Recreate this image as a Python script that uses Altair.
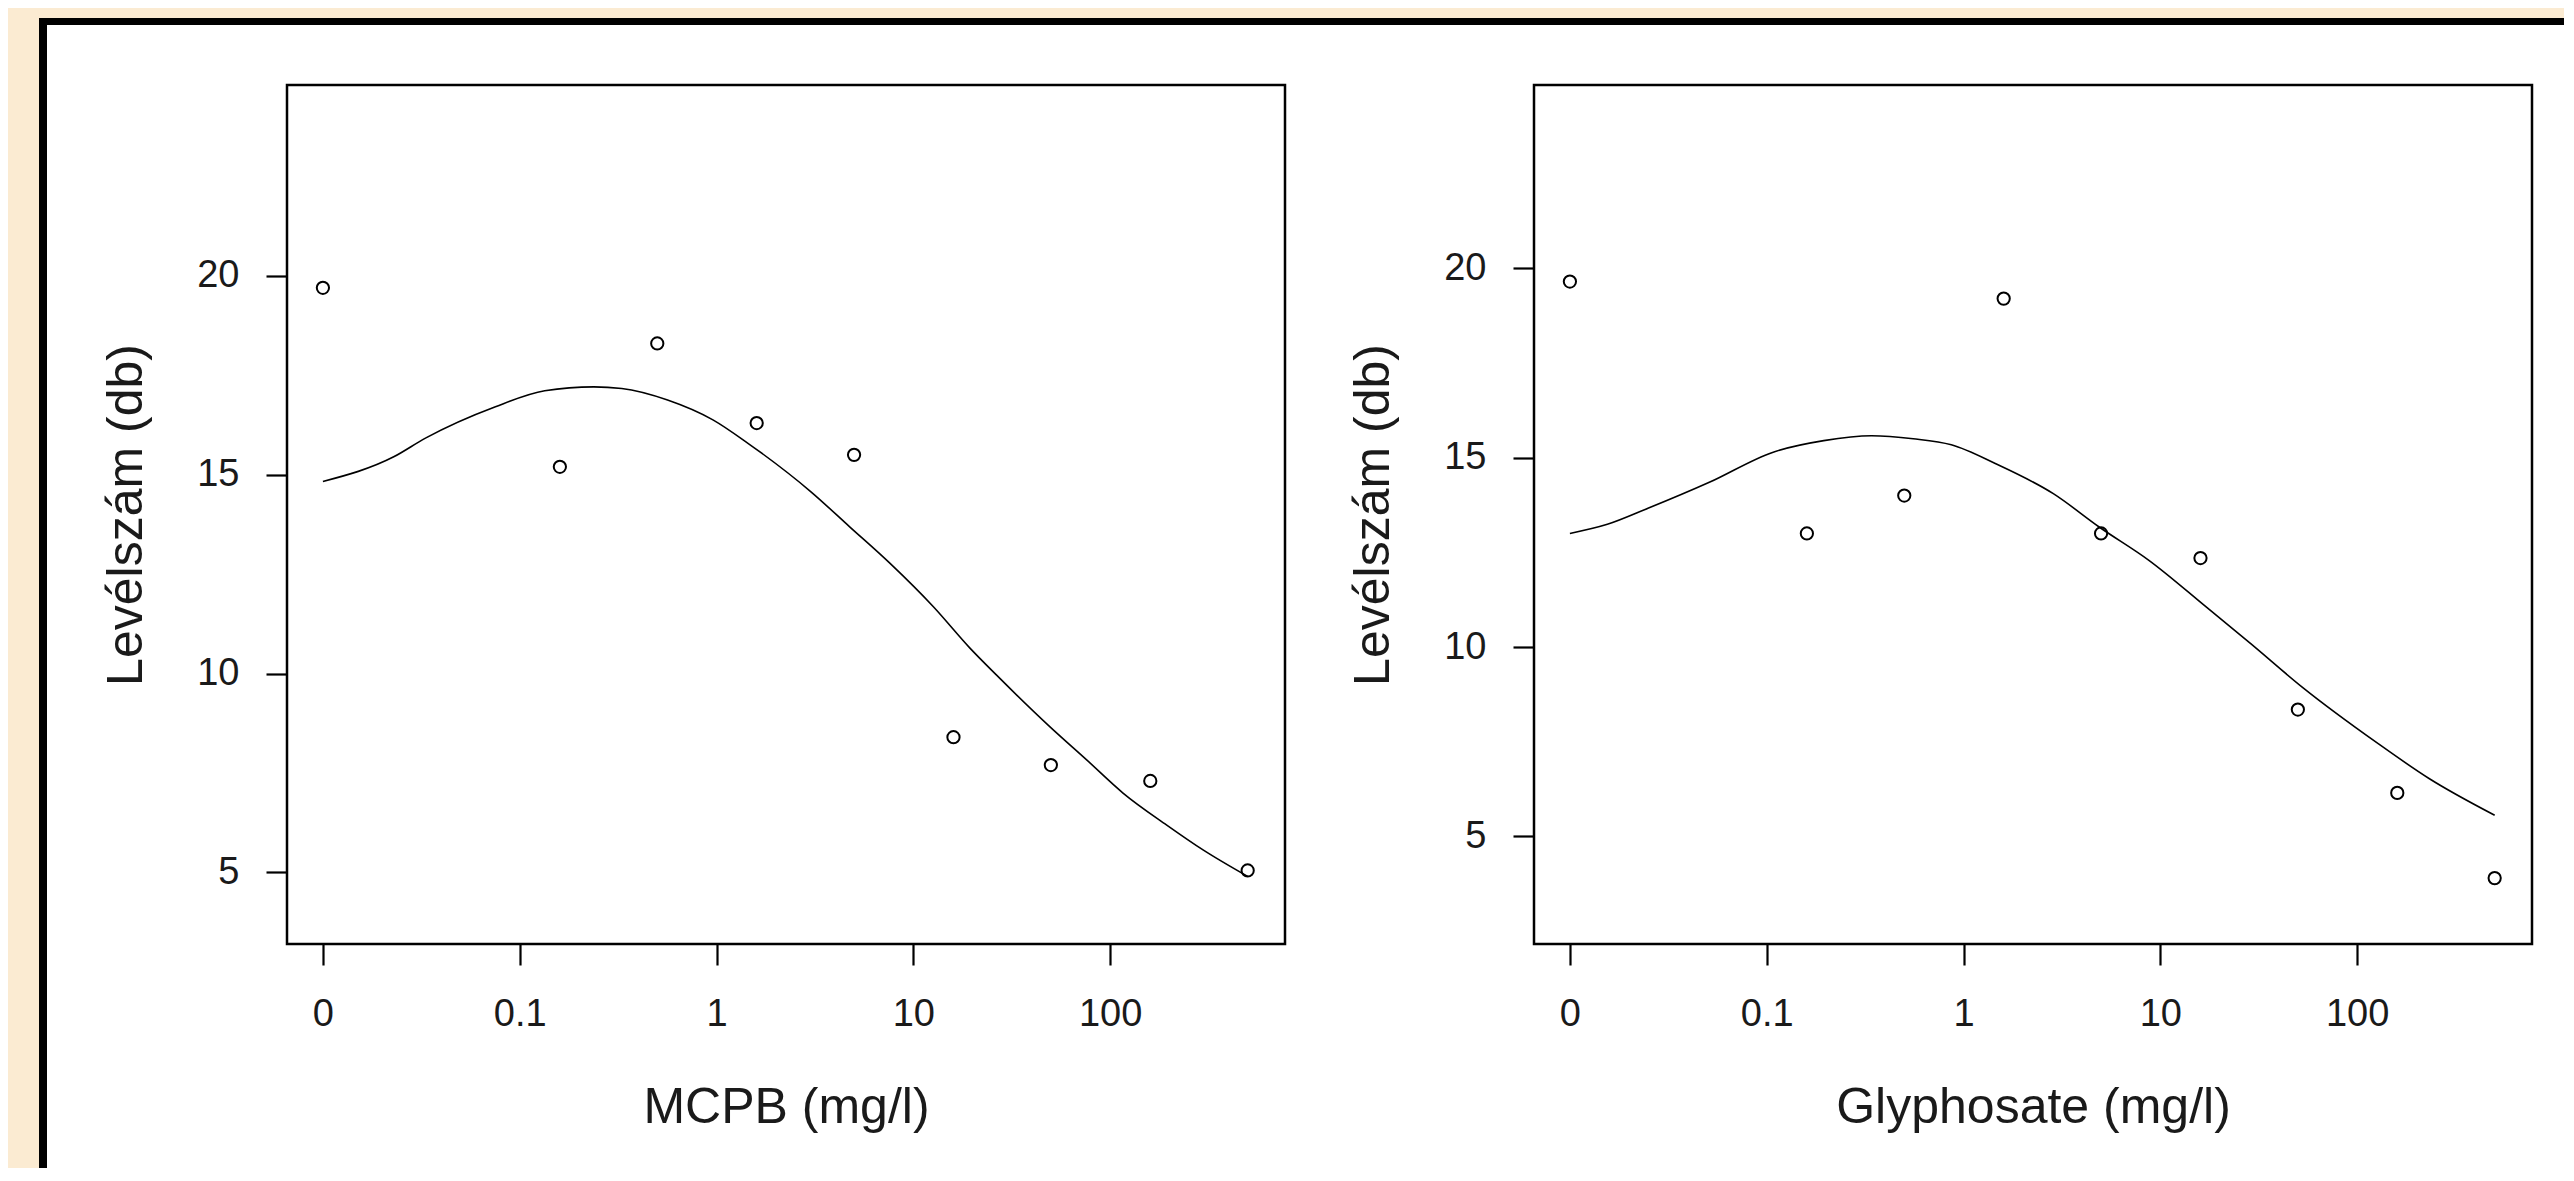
import altair as alt
import pandas as pd

# ---- data ----
x_tick_values = [0.01, 0.1, 1, 10, 100]
x_tick_labels = ["0", "0.1", "1", "10", "100"]
y_tick_values = [5, 10, 15, 20]

dose = [0, 0.16, 0.5, 1.6, 5, 16, 50, 160, 500]
mcpb_leaves = [19.7, 15.2, 18.3, 16.3, 15.5, 8.4, 7.7, 7.3, 5.05]
gly_leaves = [19.65, 13.0, 14.0, 19.2, 13.0, 12.35, 8.35, 6.15, 3.9]

mcpb_curve_dose = [0, 0.0229, 0.0332, 0.0753, 0.134, 0.238, 0.330, 0.564, 0.959,
                   1.445, 3.02, 4.75, 7.62, 12.65, 19.4, 26.5, 49.5, 76.0, 116.7,
                   194, 298, 500]
mcpb_curve_fit = [14.83, 15.45, 15.92, 16.71, 17.11, 17.21, 17.17, 16.88, 16.38,
                  15.79, 14.57, 13.69, 12.77, 11.68, 10.64, 9.96, 8.66, 7.83, 6.99,
                  6.19, 5.56, 4.9]

gly_curve_dose = [0, 0.0155, 0.0251, 0.0511, 0.107, 0.195, 0.341, 0.555, 0.867,
                  1.459, 2.86, 4.89, 8.75, 17.1, 28.8, 52.4, 128, 232, 500]
gly_curve_fit = [13.0, 13.24, 13.67, 14.35, 15.14, 15.45, 15.58, 15.50, 15.34,
                 14.84, 14.05, 13.17, 12.29, 11.06, 10.09, 8.95, 7.45, 6.53, 5.56]

x_titles = ["MCPB (mg/l)", "Glyphosate (mg/l)"]
y_title = "Levélszám (db)"

# ---- styling / layout ----
W, H = 998, 859
X_DOMAIN = [0.00657, 773.9]
Y_DOMAIN_LEFT = [3.2, 24.8]
Y_DOMAIN_RIGHT = [2.16, 24.84]
FONT = "Liberation Sans"
TXT = "#1a1a1a"
BEIGE = "#FBEBD2"

label_expr = (
    "indexof(" + str(x_tick_values) + ", datum.value) >= 0 ? "
    + str(x_tick_labels) + "[indexof(" + str(x_tick_values) + ", datum.value)] : ''"
)

ZERO_POS = "datum.dose == 0 ? 0.01 : datum.dose"


def panel(pts, curve, xtitle, ydomain, with_frame):
    x_enc = alt.X(
        "xpos:Q",
        scale=alt.Scale(type="log", domain=X_DOMAIN, nice=False),
        axis=alt.Axis(
            values=x_tick_values, labelExpr=label_expr, title=xtitle,
            domain=False, grid=False, tickSize=21, tickWidth=2.2, tickColor="black",
            labelFont=FONT, labelFontSize=38, labelColor=TXT, labelPadding=30,
            labelFlush=False, labelOverlap=False,
            titleFont=FONT, titleFontSize=50, titleFontWeight="normal", titleColor=TXT,
            titleX=W / 2, titleY=178.6, titleBaseline="alphabetic", titleAlign="center",
            zindex=1,
        ),
    )
    y_enc = alt.Y(
        "leaves:Q",
        scale=alt.Scale(domain=ydomain, nice=False, zero=False),
        axis=alt.Axis(
            values=y_tick_values, format="d", title=y_title,
            domain=False, grid=False, tickSize=21, tickWidth=2.2, tickColor="black",
            labelFont=FONT, labelFontSize=38, labelColor=TXT, labelPadding=27,
            titleFont=FONT, titleFontSize=50, titleFontWeight="normal", titleColor=TXT,
            titleX=-146, titleY=H / 2, titleAngle=270, titleBaseline="alphabetic",
            titleAlign="center", zindex=1,
        ),
    )

    one = pd.DataFrame({"k": [0]})
    layers = []
    if with_frame:
        layers.append(
            alt.Chart(one).mark_rect(color="black").encode(
                x=alt.value(-248), x2=alt.value(2277), y=alt.value(-67), y2=alt.value(1083)
            )
        )
        layers.append(
            alt.Chart(one).mark_rect(color="white").encode(
                x=alt.value(-240), x2=alt.value(2277), y=alt.value(-60), y2=alt.value(1083)
            )
        )
    line = (
        alt.Chart(curve)
        .transform_calculate(xpos=ZERO_POS)
        .mark_line(color="black", strokeWidth=1.6, interpolate="monotone")
        .encode(x=x_enc, y=y_enc)
    )
    points = (
        alt.Chart(pts)
        .transform_calculate(xpos=ZERO_POS)
        .mark_point(shape="circle", filled=False, size=150, strokeWidth=2,
                    color="black", opacity=1)
        .encode(x=x_enc, y=y_enc)
    )
    box = alt.Chart(one).mark_rect(fillOpacity=0, stroke="black", strokeWidth=2.5).encode(
        x=alt.value(0), x2=alt.value(W), y=alt.value(0), y2=alt.value(H)
    )
    layers += [line, points, box]
    return alt.layer(*layers).properties(width=W, height=H)


left = panel(
    pd.DataFrame({"dose": dose, "leaves": mcpb_leaves}),
    pd.DataFrame({"dose": mcpb_curve_dose, "leaves": mcpb_curve_fit}),
    x_titles[0], Y_DOMAIN_LEFT, True,
)
right = panel(
    pd.DataFrame({"dose": dose, "leaves": gly_leaves}),
    pd.DataFrame({"dose": gly_curve_dose, "leaves": gly_curve_fit}),
    x_titles[1], Y_DOMAIN_RIGHT, False,
)

chart = (
    alt.hconcat(left, right, spacing=249, bounds="flush")
    .properties(background=BEIGE, padding={"left": 31, "top": 10, "right": 0, "bottom": 0})
    .configure_view(strokeWidth=0)
)

chart.save("out.html", embed_options={"renderer": "svg", "actions": False})
